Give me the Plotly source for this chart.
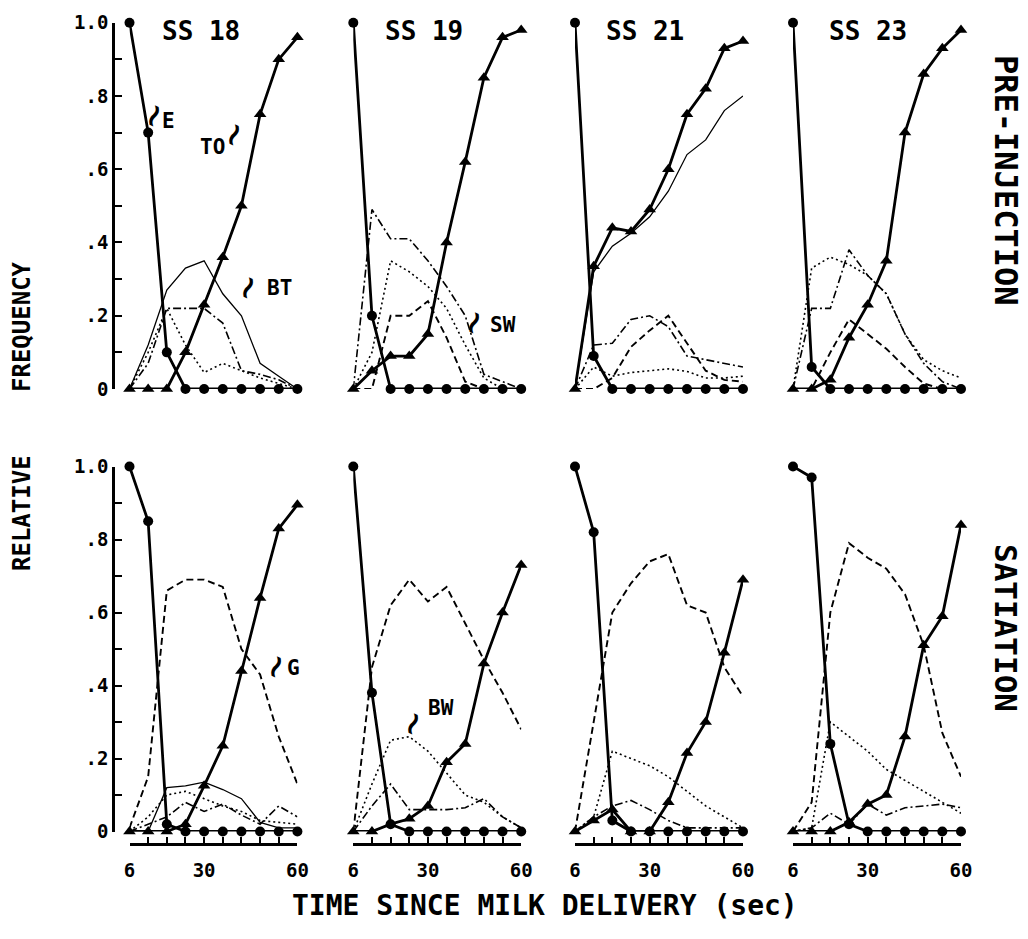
import plotly.graph_objects as go

# ---------------- data ----------------
TIMES = [6, 12, 18, 24, 30, 36, 42, 48, 54, 60]
SUBJECTS = ["SS 18", "SS 19", "SS 21", "SS 23"]
CONDITIONS = ["PRE-INJECTION", "SATIATION"]
X_TICK_VALUES = [6, 12, 18, 24, 30, 36, 42, 48, 54, 60]
X_TICK_LABELS = ["6", "", "", "", "30", "", "", "", "", "60"]
Y_TICK_VALUES = [0, 0.1, 0.2, 0.3, 0.4, 0.5, 0.6, 0.7, 0.8, 0.9, 1.0]
Y_TICK_LABELS = ["0", "", ".2", "", ".4", "", ".6", "", ".8", "", "1.0"]

# Pre-injection
pre_ss18_E = [1.0, 0.70, 0.10, 0, 0, 0, 0, 0, 0, 0]
pre_ss18_TO = [0, 0, 0, 0.10, 0.23, 0.36, 0.50, 0.75, 0.90, 0.96]
pre_ss18_BT = [0, 0.12, 0.27, 0.33, 0.35, 0.26, 0.20, 0.07, 0.035, 0]
pre_ss18_SW = [0, 0.07, 0.22, 0.22, 0.22, 0.18, 0.05, 0.04, 0.025, 0]
pre_ss18_BW = [0, 0.10, 0.22, 0.12, 0.045, 0.07, 0.05, 0.03, 0.015, 0]

pre_ss19_E = [1.0, 0.20, 0, 0, 0, 0, 0, 0, 0, 0]
pre_ss19_TO = [0, 0.05, 0.09, 0.09, 0.15, 0.40, 0.62, 0.85, 0.96, 0.98]
pre_ss19_SW = [0, 0.49, 0.41, 0.41, 0.35, 0.28, 0.20, 0.04, 0.02, 0]
pre_ss19_BW = [0, 0.10, 0.35, 0.32, 0.28, 0.22, 0.12, 0.03, 0, 0]
pre_ss19_G = [0, 0, 0.20, 0.20, 0.24, 0.14, 0.02, 0, 0, 0]

pre_ss21_E = [1.0, 0.09, 0, 0, 0, 0, 0, 0, 0, 0]
pre_ss21_TO = [0, 0.335, 0.44, 0.43, 0.49, 0.60, 0.75, 0.82, 0.93, 0.95]
pre_ss21_BT = [0, 0.32, 0.39, 0.425, 0.47, 0.54, 0.64, 0.68, 0.76, 0.80]
pre_ss21_SW = [0, 0.12, 0.125, 0.19, 0.20, 0.17, 0.09, 0.08, 0.07, 0.06]
pre_ss21_G = [0, 0, 0.03, 0.115, 0.16, 0.20, 0.125, 0.05, 0.025, 0.02]
pre_ss21_BW = [0, 0.06, 0.035, 0.045, 0.05, 0.055, 0.048, 0.03, 0.03, 0.035]

pre_ss23_E = [1.0, 0.06, 0, 0, 0, 0, 0, 0, 0, 0]
pre_ss23_TO = [0, 0, 0.025, 0.14, 0.23, 0.35, 0.70, 0.86, 0.93, 0.98]
pre_ss23_BW = [0, 0.33, 0.36, 0.34, 0.31, 0.26, 0.15, 0.08, 0.05, 0.03]
pre_ss23_SW = [0, 0.22, 0.22, 0.38, 0.31, 0.26, 0.15, 0.07, 0.02, 0]
pre_ss23_G = [0, 0, 0.10, 0.19, 0.15, 0.11, 0.06, 0.015, 0, 0]

# Satiation
sat_ss18_E = [1.0, 0.85, 0.02, 0, 0, 0, 0, 0, 0, 0]
sat_ss18_TO = [0, 0, 0, 0.02, 0.125, 0.235, 0.44, 0.64, 0.83, 0.895]
sat_ss18_G = [0.01, 0.15, 0.66, 0.69, 0.69, 0.67, 0.50, 0.43, 0.26, 0.13]
sat_ss18_BT = [0, 0, 0.12, 0.125, 0.135, 0.115, 0.09, 0.025, 0.01, 0.01]
sat_ss18_BW = [0, 0.04, 0.10, 0.11, 0.09, 0.07, 0.055, 0.03, 0.025, 0.02]
sat_ss18_SW = [0, 0.02, 0.04, 0.08, 0.055, 0.075, 0.045, 0.02, 0.07, 0.04]

sat_ss19_E = [1.0, 0.38, 0.02, 0, 0, 0, 0, 0, 0, 0]
sat_ss19_TO = [0, 0, 0.02, 0.035, 0.07, 0.19, 0.24, 0.46, 0.60, 0.73]
sat_ss19_G = [0, 0.45, 0.62, 0.69, 0.63, 0.67, 0.57, 0.47, 0.38, 0.28]
sat_ss19_BW = [0, 0.13, 0.25, 0.26, 0.22, 0.16, 0.10, 0.08, 0.04, 0.01]
sat_ss19_SW = [0, 0.07, 0.13, 0.06, 0.06, 0.06, 0.065, 0.09, 0.04, 0.01]

sat_ss21_E = [1.0, 0.82, 0.03, 0, 0, 0, 0, 0, 0, 0]
sat_ss21_TO = [0, 0.03, 0.06, 0, 0, 0.08, 0.215, 0.30, 0.49, 0.69]
sat_ss21_G = [0, 0.30, 0.60, 0.68, 0.74, 0.76, 0.62, 0.60, 0.45, 0.37]
sat_ss21_BW = [0, 0.04, 0.22, 0.20, 0.18, 0.15, 0.11, 0.07, 0.04, 0.01]
sat_ss21_SW = [0, 0.04, 0.07, 0.085, 0.06, 0.03, 0.01, 0.01, 0.01, 0.01]

sat_ss23_E = [1.0, 0.97, 0.24, 0.02, 0, 0, 0, 0, 0, 0]
sat_ss23_TO = [0, 0, 0, 0.025, 0.075, 0.10, 0.26, 0.51, 0.59, 0.84]
sat_ss23_G = [0, 0.08, 0.60, 0.79, 0.75, 0.72, 0.65, 0.51, 0.27, 0.15]
sat_ss23_BW = [0, 0.01, 0.30, 0.26, 0.22, 0.17, 0.14, 0.11, 0.08, 0.05]
sat_ss23_SW = [0, 0.01, 0.05, 0.02, 0.075, 0.045, 0.065, 0.07, 0.075, 0.065]

PANELS = [
    (0, 0, {"BT": pre_ss18_BT, "SW": pre_ss18_SW, "BW": pre_ss18_BW, "E": pre_ss18_E, "TO": pre_ss18_TO}),
    (0, 1, {"G": pre_ss19_G, "SW": pre_ss19_SW, "BW": pre_ss19_BW, "E": pre_ss19_E, "TO": pre_ss19_TO}),
    (0, 2, {"BT": pre_ss21_BT, "G": pre_ss21_G, "SW": pre_ss21_SW, "BW": pre_ss21_BW, "E": pre_ss21_E, "TO": pre_ss21_TO}),
    (0, 3, {"G": pre_ss23_G, "SW": pre_ss23_SW, "BW": pre_ss23_BW, "E": pre_ss23_E, "TO": pre_ss23_TO}),
    (1, 0, {"BT": sat_ss18_BT, "G": sat_ss18_G, "SW": sat_ss18_SW, "BW": sat_ss18_BW, "E": sat_ss18_E, "TO": sat_ss18_TO}),
    (1, 1, {"G": sat_ss19_G, "SW": sat_ss19_SW, "BW": sat_ss19_BW, "E": sat_ss19_E, "TO": sat_ss19_TO}),
    (1, 2, {"G": sat_ss21_G, "SW": sat_ss21_SW, "BW": sat_ss21_BW, "E": sat_ss21_E, "TO": sat_ss21_TO}),
    (1, 3, {"G": sat_ss23_G, "SW": sat_ss23_SW, "BW": sat_ss23_BW, "E": sat_ss23_E, "TO": sat_ss23_TO}),
]

# ---------------- styling / layout ----------------
W, H = 1028, 939
FONT = "DejaVu Sans Mono"
COL_PX = [(129.5, 297.4), (353.3, 521.2), (575.0, 743.0), (793.0, 961.0)]
ROW_PX = [(22.7, 389.0), (466.5, 831.5)]   # pixel y of value 1.0 and 0
YAXIS_X_PX = 113
XAXIS_Y_PX = 844

LINE_STYLE = {
    "BT": dict(color="black", width=1.3, dash="solid"),
    "G": dict(color="black", width=1.9, dash="7px,4px"),
    "SW": dict(color="black", width=1.6, dash="8px,3px,2px,3px"),
    "BW": dict(color="black", width=1.6, dash="2px,3px"),
}


def px_x(p):
    return p / W


def px_y(p):
    return 1 - p / H


fig = go.Figure()
layout = dict(
    width=W, height=H, autosize=False,
    margin=dict(l=0, r=0, t=0, b=0, pad=0, autoexpand=False),
    paper_bgcolor="white", plot_bgcolor="white",
    showlegend=False,
    font=dict(family=FONT, color="black"),
)

for idx, (row, col, series) in enumerate(PANELS):
    n = idx + 1
    xa = "x" if n == 1 else f"x{n}"
    ya = "y" if n == 1 else f"y{n}"
    xkey = "xaxis" if n == 1 else f"xaxis{n}"
    ykey = "yaxis" if n == 1 else f"yaxis{n}"
    x0, x1 = COL_PX[col]
    ytop, ybot = ROW_PX[row]

    for name, vals in series.items():
        if name == "E":
            fig.add_trace(go.Scatter(
                x=TIMES, y=vals, xaxis=xa, yaxis=ya, mode="lines+markers",
                line=dict(color="black", width=2.8),
                marker=dict(symbol="circle", size=10, color="black"),
                cliponaxis=False, name=name))
        elif name == "TO":
            fig.add_trace(go.Scatter(
                x=TIMES, y=vals, xaxis=xa, yaxis=ya, mode="lines+markers",
                line=dict(color="black", width=2.8),
                marker=dict(symbol="triangle-up", size=11, color="black"),
                cliponaxis=False, name=name))
        else:
            fig.add_trace(go.Scatter(
                x=TIMES, y=vals, xaxis=xa, yaxis=ya, mode="lines",
                line=LINE_STYLE[name], cliponaxis=False, name=name))

    xaxis = dict(domain=[px_x(x0), px_x(x1)], range=[6, 60], automargin=False,
                 showgrid=False, zeroline=False, fixedrange=True)
    if row == 1:
        xaxis.update(anchor="free", position=px_y(XAXIS_Y_PX), showline=True,
                     linecolor="black", linewidth=2.5, ticks="inside",
                     ticklen=6, tickwidth=2, tickcolor="black",
                     ticklabelstandoff=8,
                     tickvals=X_TICK_VALUES, ticktext=X_TICK_LABELS,
                     tickfont=dict(family=FONT, size=19, color="black", weight="bold"))
    else:
        xaxis.update(visible=False, anchor=ya)
    layout[xkey] = xaxis

    yaxis = dict(domain=[px_y(ybot), px_y(ytop)], range=[0, 1], automargin=False,
                 showgrid=False, zeroline=False, fixedrange=True)
    if col == 0:
        yaxis.update(anchor="free", position=px_x(YAXIS_X_PX), showline=True,
                     linecolor="black", linewidth=2.5, ticks="inside",
                     ticklen=7, tickwidth=2, tickcolor="black",
                     tickvals=Y_TICK_VALUES, ticktext=Y_TICK_LABELS,
                     tickfont=dict(family=FONT, size=19, color="black", weight="bold"))
    else:
        yaxis.update(visible=False, anchor=xa)
    layout[ykey] = yaxis


def text_ann(text, cx, cy, size, angle=0):
    return dict(text=text, x=px_x(cx), y=px_y(cy), xref="paper", yref="paper",
                xanchor="center", yanchor="middle", textangle=angle, showarrow=False,
                font=dict(family=FONT, size=size, color="black", weight="bold"))


ann = []
title_centers = [201, 424, 645, 868]
for subj, cx in zip(SUBJECTS, title_centers):
    ann.append(text_ann(subj, cx, 31, 26))

ann.append(text_ann("FREQUENCY", 22, 327, 24, -90))
ann.append(text_ann("RELATIVE", 22, 513, 24, -90))
ann.append(text_ann(CONDITIONS[0], 1006, 180, 32, 90))
ann.append(text_ann(CONDITIONS[1], 1006, 628, 31, 90))
ann.append(text_ann("TIME SINCE MILK DELIVERY (sec)", 545, 905, 28))

# curve labels with squiggle leaders
LABELS = [("E", 168, 121, 154, 114), ("TO", 212, 147, 234, 133), ("BT", 279, 288, 248, 287),
          ("SW", 503, 325, 474, 322), ("G", 293, 668, 276, 665), ("BW", 441, 708, 413, 722)]
for txt, lx, ly, sx, sy in LABELS:
    ann.append(text_ann(txt, lx, ly, 21))
    ann.append(text_ann("≀", sx, sy, 30, 25))

layout["annotations"] = ann
fig.update_layout(**layout)
fig.write_html(
    "out.html",
    config={"displayModeBar": False},
    post_script="document.documentElement.style.margin='0';document.body.style.margin='0';"
                "document.body.style.overflow='hidden';",
)
